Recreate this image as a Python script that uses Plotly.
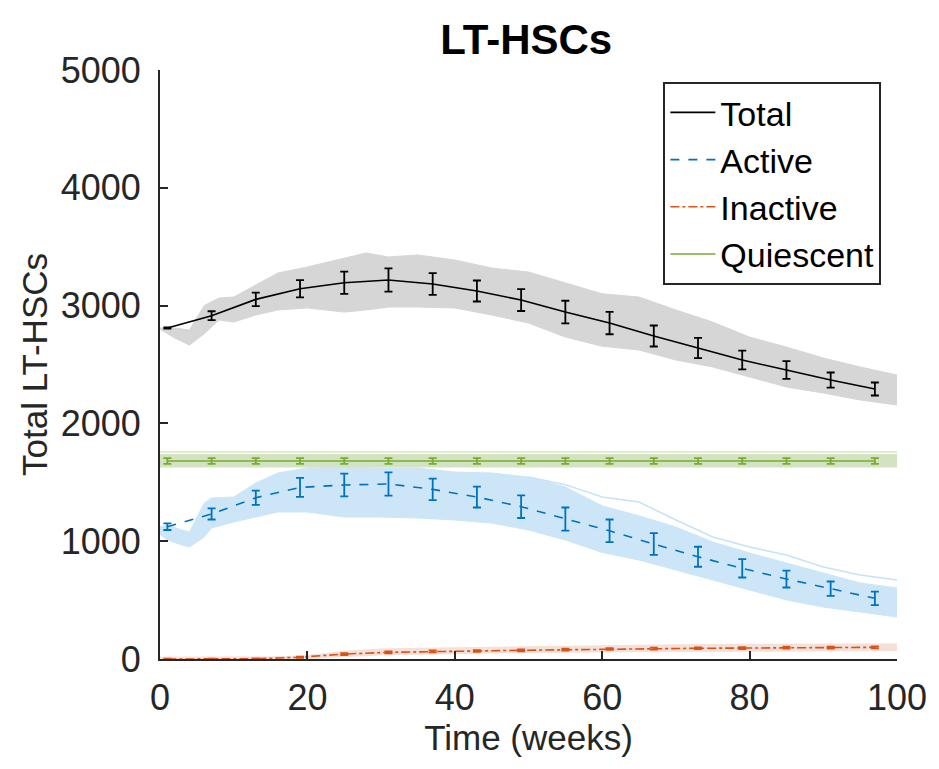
import plotly.graph_objects as go

# ---------------- data ----------------
weeks_eb = [1, 7, 13, 19, 25, 31, 37, 43, 49, 55, 61, 67, 73, 79, 85, 91, 97]

total_mean = [2810, 2914, 3053, 3143, 3194, 3217, 3183, 3124, 3047, 2945, 2852, 2742, 2640, 2538, 2453, 2368, 2292]
total_err = [5, 38, 57, 74, 95, 99, 92, 89, 93, 96, 95, 89, 86, 79, 75, 64, 55]

active_mean = [1123, 1231, 1369, 1457, 1477, 1486, 1440, 1375, 1293, 1188, 1088, 976, 868, 770, 679, 597, 515]
active_err = [28, 47, 61, 81, 96, 99, 92, 89, 96, 98, 96, 92, 85, 78, 72, 61, 57]

inactive_mean = [0, 0, 2, 15, 42, 57, 65, 68, 74, 79, 85, 88, 91, 93, 96, 96, 99]
inactive_err = [2, 2, 3, 6, 8, 8, 8, 8, 8, 8, 8, 8, 8, 8, 8, 8, 8]

quiescent_mean = [1681, 1681, 1681, 1681, 1681, 1681, 1681, 1681, 1681, 1681, 1681, 1681, 1681, 1681, 1681, 1681, 1681]
quiescent_err = [25, 25, 25, 25, 25, 25, 25, 25, 25, 25, 25, 25, 25, 25, 25, 25, 25]

# envelopes of the simulated trajectories
total_env_weeks = [0, 2, 4, 6, 8, 10, 13, 16, 20, 25, 28, 31, 35, 40, 45, 50, 55, 60, 65, 70, 75, 80, 85, 90, 95, 100]
total_upper = [2810, 2810, 2793, 3000, 3064, 3073, 3175, 3277, 3328, 3404, 3447, 3413, 3430, 3387, 3319, 3285, 3192, 3100, 3073, 2963, 2860, 2733, 2648, 2555, 2479, 2411]
total_lower = [2800, 2725, 2665, 2760, 2878, 2860, 2920, 2963, 2980, 2945, 2963, 2988, 2988, 2980, 2920, 2852, 2733, 2655, 2623, 2538, 2479, 2394, 2309, 2258, 2199, 2156]

active_env_weeks = [0, 1, 3, 4, 6, 7, 10, 13, 16, 20, 25, 30, 35, 40, 45, 50, 55, 60, 65, 70, 75, 80, 85, 90, 95, 100]
active_upper = [1120, 1137, 1095, 1078, 1324, 1367, 1375, 1494, 1579, 1621, 1630, 1621, 1621, 1587, 1579, 1545, 1460, 1300, 1215, 1120, 993, 900, 815, 730, 645, 603]
active_lower = [1060, 1010, 968, 951, 1036, 1112, 1163, 1205, 1248, 1248, 1205, 1205, 1197, 1180, 1154, 1095, 1010, 905, 840, 755, 670, 586, 501, 441, 399, 356]

active_outlier_weeks = [50, 55, 60, 65, 70, 75, 80, 85, 90, 95, 100]
active_outlier = [1545, 1480, 1375, 1333, 1180, 1036, 951, 883, 781, 713, 671]

inactive_env_weeks = [0, 5, 10, 15, 19, 20, 25, 30, 40, 50, 60, 70, 80, 90, 100]
inactive_upper = [15, 15, 15, 18, 25, 30, 65, 85, 95, 105, 115, 120, 125, 125, 128]
inactive_lower = [0, 0, 0, 0, 0, 0, 20, 35, 45, 55, 60, 65, 70, 70, 72]

quiescent_env_weeks = [0, 100]
quiescent_upper = [1735, 1735]
quiescent_lower = [1630, 1630]
quiescent_top_line = [1757, 1757]

x_ticks = [0, 20, 40, 60, 80, 100]
y_ticks = [0, 1000, 2000, 3000, 4000, 5000]

# ---------------- figure ----------------
FONT = "Liberation Sans, Arial, Helvetica, sans-serif"
AX = "#262626"

fig = go.Figure()


def band(xs, up, lo, color):
    fig.add_trace(go.Scatter(
        x=list(xs) + list(xs)[::-1], y=list(up) + list(lo)[::-1],
        fill="toself", fillcolor=color, mode="lines",
        line=dict(color=color, width=1), showlegend=False, hoverinfo="skip"))


band(total_env_weeks, total_upper, total_lower, "#d6d6d6")
band(active_env_weeks, active_upper, active_lower, "#cce6f7")
fig.add_trace(go.Scatter(x=active_outlier_weeks, y=active_outlier, mode="lines",
                         line=dict(color="#c6e3f6", width=1.5), showlegend=False, hoverinfo="skip"))
band(inactive_env_weeks, inactive_upper, inactive_lower, "#f5e0d7")
band(quiescent_env_weeks, quiescent_upper, quiescent_lower, "#d3e2c0")
fig.add_trace(go.Scatter(x=quiescent_env_weeks, y=quiescent_top_line, mode="lines",
                         line=dict(color="#e2ecd5", width=2), showlegend=False, hoverinfo="skip"))


def mean_trace(name, y, err, color, dash):
    fig.add_trace(go.Scatter(
        x=weeks_eb, y=y, name=name, mode="lines",
        line=dict(color=color, width=1.6, dash=dash),
        error_y=dict(type="data", array=err, visible=True, color=color, thickness=1.8, width=4)))


mean_trace("Total", total_mean, total_err, "#000000", "solid")
mean_trace("Active", active_mean, active_err, "#0072BD", "dash")
mean_trace("Inactive", inactive_mean, inactive_err, "#D95319", "dashdot")
mean_trace("Quiescent", quiescent_mean, quiescent_err, "#77AC30", "solid")

fig.update_layout(
    width=939, height=769,
    margin=dict(l=160, r=36, t=70, b=110),
    paper_bgcolor="white", plot_bgcolor="white",
    font=dict(family=FONT, size=36, color=AX),
    title=dict(text="<b>LT-HSCs</b>", x=0.497, xref="paper", y=1 - 39 / 769, yref="container",
               yanchor="middle", xanchor="center", font=dict(size=42, color="#000000", family=FONT)),
    showlegend=True,
    legend=dict(x=0.683, y=0.98, xanchor="left", yanchor="top",
                bgcolor="white", bordercolor="#262626", borderwidth=2,
                font=dict(size=34, color="#000000", family=FONT),
                tracegroupgap=0, itemwidth=45),
)
fig.update_xaxes(range=[0, 100], tickvals=x_ticks, ticktext=[str(v) for v in x_ticks],
                 showline=True, linecolor=AX, linewidth=2, ticks="inside", ticklen=8,
                 tickwidth=2, tickcolor=AX, showgrid=False, zeroline=False, mirror=False,
                 ticklabelstandoff=6,
                 title=dict(text="Time (weeks)", standoff=0, font=dict(size=35)))
fig.update_yaxes(range=[0, 5000], tickvals=y_ticks, ticktext=[str(v) for v in y_ticks],
                 showline=True, linecolor=AX, linewidth=2, ticks="inside", ticklen=8,
                 tickwidth=2, tickcolor=AX, showgrid=False, zeroline=False, mirror=False,
                 ticklabelstandoff=10,
                 title=dict(text="Total LT-HSCs", standoff=2, font=dict(size=35)))

fig.write_html("out.html")
